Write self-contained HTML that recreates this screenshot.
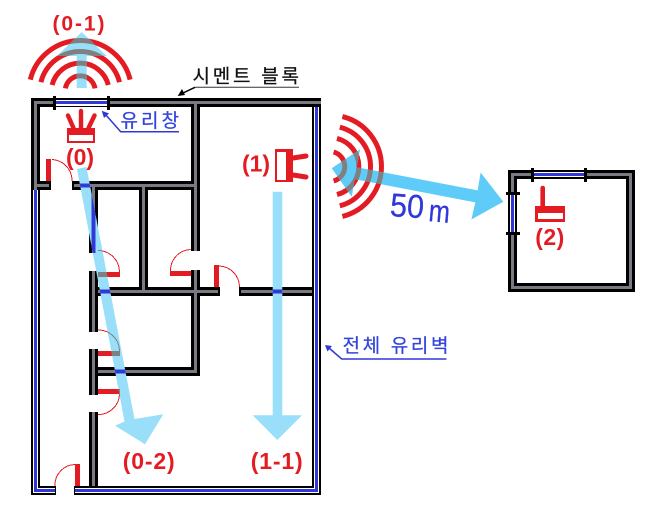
<!DOCTYPE html>
<html><head><meta charset="utf-8">
<style>
html,body{margin:0;padding:0;background:#fff}
svg{display:block}
text{font-family:"Liberation Sans","Noto Sans CJK KR",sans-serif}
.r{font-weight:bold;font-size:23px;fill:#E31B23}
.k{font-size:19px;stroke-width:.25px}
.c{shape-rendering:crispEdges}
</style></head><body>
<svg width="650" height="518" viewBox="0 0 650 518" xmlns="http://www.w3.org/2000/svg">
<defs>
<clipPath id="c01"><polygon points="81.7,32 106.7,56 86.7,56 86.7,88 76.7,88 76.7,56 57,56"/></clipPath>
<clipPath id="c02"><polygon points="77,169 86.5,167 134.5,419 163.3,414.3 145,444.3 115,425.7 124.5,421.5"/></clipPath>
<clipPath id="c11"><polygon points="272.7,191.7 282.3,191.7 282.3,415.3 302,415.3 277.3,440 252.7,415.3 272.7,415.3"/></clipPath>
<clipPath id="c50"><polygon points="331.7,168.3 360,149.3 356.8,167.2 477.7,190.4 480.6,172.5 503.3,201.7 471.4,219.5 475.3,202.4 354.8,179.2 351.7,196.7"/></clipPath>
<g id="wallpaths">
<path d="M35.5,190 V102.5 H321 M35.5,185.5 H49 M74,185.5 H195.5 M195.5,102.5 V251 M195.5,270 V371.5 H98 M93.5,185.5 V253 M93.5,271 V332 M93.5,349 V395 M93.5,412 V486 M98,291.5 H218 M241,291.5 H313 M143.5,185.5 V291.5" fill="none"/>
</g>
<g id="doors">
<path d="M48.5,159 V181 M98,274.5 H120 M170,273.5 H191 M216.5,265 V287 M98,353.5 H120 M98,391.5 H120 M77.5,464 V486" fill="none" stroke-width="5"/>
<path d="M52,159.5 A21 21 0 0 1 72,181 M98,250.5 A21.5 21.5 0 0 1 119.5,272 M190.5,249.5 A21 21 0 0 0 170.5,271 M219,266 A21 21 0 0 1 239.5,287 M98,330 A21 21 0 0 1 119.5,351 M119.5,394 A21 21 0 0 1 98,414.5 M75,464.5 A20.5 20.5 0 0 0 55,486" fill="none" stroke-width="1"/>
</g>
<g id="wave1"><path d="M65.4,88.4 A15 15 0 0 1 95,88.4 M52.1,85 A29 29 0 0 1 108.3,85 M40.9,82.2 A40.5 40.5 0 0 1 119.5,82.2 M30.3,79.6 A51.4 51.4 0 0 1 130.1,79.6" fill="none" stroke-width="5"/></g>
<g id="wave2"><path d="M333.6,152 A15 15 0 0 1 333.6,181 M337,138.4 A29 29 0 0 1 337,194.6 M339.8,127.2 A40.5 40.5 0 0 1 339.8,205.8 M342.4,116.6 A51.4 51.4 0 0 1 342.4,216.4" fill="none" stroke-width="5"/></g>
</defs>

<!-- main walls -->
<g class="c">
<path d="M35.5,190 V102.5 H321 M31,185.5 H51 M72,185.5 H200 M195.5,102.5 V251 M195.5,270 V371.5 H98 M93.5,185.5 V253 M93.5,271 V332 M93.5,349 V395 M93.5,412 V486 M98,291.5 H220 M239,291.5 H313 M143.5,185.5 V291.5" fill="none" stroke="#000" stroke-width="9"/>
<use href="#wallpaths" stroke="#7a7a82" stroke-width="3"/>
<!-- outer glass wall -->
<path d="M316.5,107 V490.5 H74 M56,490.5 H35.5 V190" fill="none" stroke="#000" stroke-width="9"/>
<path d="M316.5,107 V490.5 H75 M55,490.5 H35.5 V190" fill="none" stroke="#fff" stroke-width="5"/>
<path d="M316.5,107 V490.5 H75 M55,490.5 H35.5 V190" fill="none" stroke="#3038D8" stroke-width="3"/>
<!-- top window -->
<rect x="54" y="100" width="54" height="6" fill="#fff"/>
<rect x="54" y="98" width="54" height="2" fill="#000"/>
<rect x="54" y="106" width="54" height="1" fill="#000"/>
<rect x="54" y="101" width="54" height="3" fill="#3038D8"/>
<rect x="53" y="96" width="3" height="14" fill="#000"/>
<rect x="107" y="96" width="3" height="14" fill="#000"/>
</g>

<!-- doors -->
<use href="#doors" stroke="#E31B23" class="c"/>

<!-- waves -->
<use href="#wave1" stroke="#E31B23"/>
<use href="#wave2" stroke="#E31B23"/>

<!-- arrows -->
<polygon points="81.7,32 106.7,56 86.7,56 86.7,88 76.7,88 76.7,56 57,56" fill="#99DFFA"/>
<polygon points="77,169 86.5,167 134.5,419 163.3,414.3 145,444.3 115,425.7 124.5,421.5" fill="#99DFFA"/>
<polygon points="272.7,191.7 282.3,191.7 282.3,415.3 302,415.3 277.3,440 252.7,415.3 272.7,415.3" fill="#99DFFA"/>
<polygon points="331.7,168.3 360,149.3 356.8,167.2 477.7,190.4 480.6,172.5 503.3,201.7 471.4,219.5 475.3,202.4 354.8,179.2 351.7,196.7" fill="#5FCBF8"/>

<!-- overlap patches -->
<g clip-path="url(#c01)"><use href="#wave1" stroke="#808080"/></g>
<g clip-path="url(#c50)"><use href="#wave2" stroke="#808080"/></g>
<g clip-path="url(#c02)"><use href="#wallpaths" stroke="#3038D8" stroke-width="4" class="c"/><use href="#doors" stroke="#808080" class="c"/></g>
<g clip-path="url(#c11)"><use href="#wallpaths" stroke="#3038D8" stroke-width="4" class="c"/></g>

<!-- AP icon 0 -->
<rect class="c" x="67" y="128" width="28" height="15" fill="#E31B23"/>
<rect class="c" x="69" y="135" width="24" height="6" fill="#fff"/>
<path d="M81,111 V128 M68,115.5 L73.5,128 M94.5,115.5 L88.5,128" stroke="#E31B23" stroke-width="4.4" stroke-linecap="round" fill="none"/>

<!-- AP icon 1 -->
<rect class="c" x="275" y="149" width="18" height="33" fill="#E31B23"/>
<rect class="c" x="277" y="152" width="9" height="28" fill="#fff"/>
<path d="M293,158 L306,156 M293,175 L306,177" stroke="#E31B23" stroke-width="5" stroke-linecap="round" fill="none"/>

<!-- Room 2 -->
<g class="c">
<rect x="512.5" y="174.5" width="118" height="113" fill="none" stroke="#000" stroke-width="9"/>
<rect x="512.5" y="174.5" width="118" height="113" fill="none" stroke="#7a7a82" stroke-width="3"/>
<rect x="532" y="170" width="53" height="9" fill="#000"/>
<rect x="532" y="172" width="53" height="5" fill="#fff"/>
<rect x="532" y="173" width="53" height="3" fill="#3038D8"/>
<rect x="531" y="168" width="3" height="14" fill="#000"/>
<rect x="584" y="168" width="3" height="14" fill="#000"/>
<rect x="508" y="193" width="9" height="40" fill="#000"/>
<rect x="510" y="193" width="5" height="40" fill="#fff"/>
<rect x="511" y="193" width="3" height="40" fill="#3038D8"/>
<rect x="506" y="192" width="14" height="3" fill="#000"/>
<rect x="506" y="232" width="14" height="3" fill="#000"/>
<!-- AP icon 2 -->
<rect x="535" y="206" width="30" height="16" fill="#E31B23"/>
<rect x="538" y="213" width="25" height="6" fill="#fff"/>
</g>
<path d="M542.7,188 V206" stroke="#E31B23" stroke-width="4.6" stroke-linecap="round"/>

<!-- red labels -->
<text class="r" x="52.5" y="30.5" textLength="52" style="font-size:21px">(0-1)</text>
<text class="r" x="66" y="165" textLength="28">(0)</text>
<text class="r" x="242" y="171.5" textLength="28">(1)</text>
<text class="r" x="535.3" y="245" textLength="29">(2)</text>
<text class="r" x="122.7" y="469" textLength="52">(0-2)</text>
<text class="r" x="250.7" y="469" textLength="52">(1-1)</text>

<!-- Korean labels -->
<text class="k" x="192.5" y="82.5" textLength="106.5" fill="#111" stroke="#111">시멘트 블록</text>
<path d="M195,87.3 H299" stroke="#334" stroke-width="1"/>
<path d="M195,87.3 L183,93" stroke="#000" stroke-width="1.5" fill="none"/>
<polygon points="177.7,96 182,89 185,95" fill="#000"/>

<text class="k" x="120.5" y="127" textLength="58.5" fill="#3344DD" stroke="#3344DD">유리창</text>
<path d="M179,131.7 H120.7 L105,114" stroke="#3038D8" stroke-width="1.5" fill="none"/>
<polygon points="101.7,110.7 109,113.5 104,118" fill="#3038D8"/>

<text class="k" x="342.5" y="352" textLength="106" fill="#3344DD" stroke="#3344DD">전체 유리벽</text>
<path d="M446.5,359 H341.7 L329,348" stroke="#3038D8" stroke-width="1.5" fill="none"/>
<polygon points="325,345 332,346 327.5,351.5" fill="#3038D8"/>

<!-- 50m -->
<g fill="#3038D8" stroke="#3038D8" stroke-width=".3">
<text transform="translate(389.5,216) rotate(4) scale(0.92,1)" font-size="33">50</text>
<text transform="translate(428,221) rotate(5) scale(0.82,1)" font-size="31">m</text>
</g>
</svg>
</body></html>
